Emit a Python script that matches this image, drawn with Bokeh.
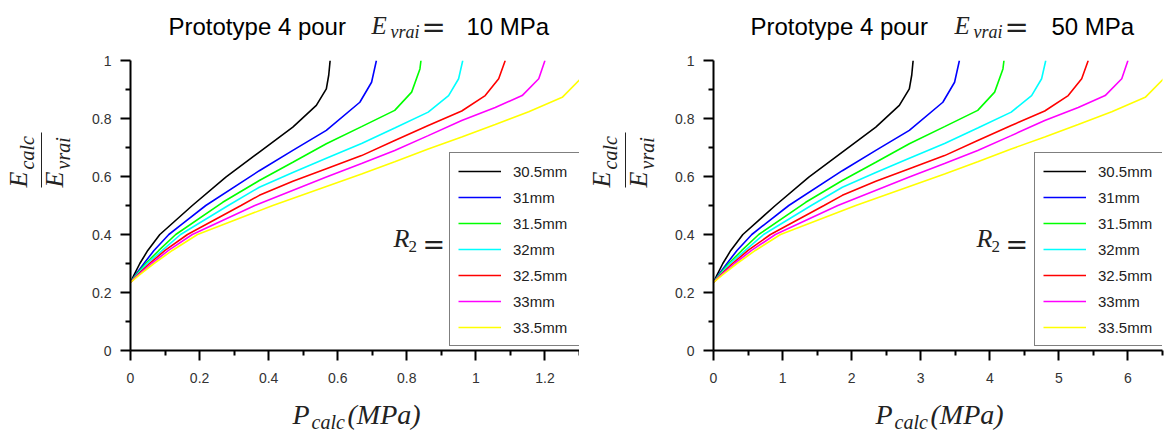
import math
from bokeh.plotting import figure
from bokeh.models import Label, BoxAnnotation, FixedTicker, CustomJSTickFormatter, Range1d
from bokeh.layouts import row, column
from bokeh.embed import file_html
from bokeh.resources import INLINE

# ---------------- data ----------------
series_labels = ["30.5mm", "31mm", "31.5mm", "32mm", "32.5mm", "33mm", "33.5mm"]
series_colors = ["#000000", "#0000ff", "#00ff00", "#00ffff", "#ff0000", "#ff00ff", "#ffff00"]

# E_calc / E_vrai (y) of the points read on each curve (same for both panels)
y_30_5 = [0.235, 0.26, 0.3, 0.345, 0.4, 0.5, 0.598, 0.684, 0.77, 0.845, 0.902, 0.95, 1.0]
y_31 = [0.235, 0.26, 0.3, 0.345, 0.4, 0.437, 0.5, 0.62, 0.69, 0.759, 0.856, 0.925, 1.0]
y_31_5 = [0.235, 0.26, 0.3, 0.345, 0.4, 0.511, 0.586, 0.649, 0.713, 0.772, 0.828, 0.891, 0.971, 1.0]
y_32 = [0.235, 0.26, 0.3, 0.345, 0.4, 0.5, 0.563, 0.614, 0.663, 0.714, 0.767, 0.822, 0.879, 0.937, 1.0]
y_32_5 = [0.235, 0.26, 0.3, 0.345, 0.4, 0.5, 0.535, 0.584, 0.627, 0.672, 0.724, 0.776, 0.826, 0.879, 0.937, 1.0]
y_33 = [0.235, 0.26, 0.3, 0.345, 0.4, 0.5, 0.598, 0.645, 0.69, 0.741, 0.793, 0.838, 0.879, 0.937, 1.0]
y_33_5 = [0.235, 0.26, 0.3, 0.345, 0.4, 0.5, 0.609, 0.651, 0.695, 0.736, 0.779, 0.823, 0.873, 0.943]

# P_calc (MPa) for E_vrai = 10 MPa
p10_30_5 = [0, 0.01, 0.027, 0.05, 0.085, 0.179, 0.276, 0.373, 0.47, 0.538, 0.567, 0.574, 0.578]
p10_31 = [0, 0.014, 0.039, 0.068, 0.111, 0.15, 0.218, 0.373, 0.47, 0.567, 0.664, 0.698, 0.712]
p10_31_5 = [0, 0.016, 0.044, 0.082, 0.131, 0.267, 0.373, 0.47, 0.567, 0.669, 0.765, 0.814, 0.838, 0.841]
p10_32 = [0, 0.018, 0.048, 0.092, 0.145, 0.283, 0.373, 0.47, 0.567, 0.669, 0.765, 0.862, 0.921, 0.95, 0.962]
p10_32_5 = [0, 0.02, 0.055, 0.10, 0.165, 0.32, 0.373, 0.47, 0.567, 0.669, 0.765, 0.862, 0.959, 1.027, 1.066, 1.085]
p10_33 = [0, 0.022, 0.061, 0.11, 0.179, 0.36, 0.567, 0.669, 0.765, 0.862, 0.959, 1.056, 1.134, 1.182, 1.2]
p10_33_5 = [0, 0.025, 0.068, 0.121, 0.194, 0.412, 0.669, 0.765, 0.862, 0.959, 1.056, 1.153, 1.25, 1.308]

# P_calc (MPa) for E_vrai = 50 MPa
p50_30_5 = [0, 0.05, 0.135, 0.25, 0.425, 0.895, 1.38, 1.865, 2.35, 2.69, 2.835, 2.87, 2.89]
p50_31 = [0, 0.07, 0.195, 0.34, 0.555, 0.75, 1.09, 1.865, 2.35, 2.835, 3.32, 3.49, 3.56]
p50_31_5 = [0, 0.08, 0.22, 0.41, 0.655, 1.335, 1.865, 2.35, 2.835, 3.345, 3.825, 4.07, 4.19, 4.205]
p50_32 = [0, 0.09, 0.24, 0.46, 0.725, 1.415, 1.865, 2.35, 2.835, 3.345, 3.825, 4.31, 4.605, 4.75, 4.81]
p50_32_5 = [0, 0.1, 0.275, 0.5, 0.825, 1.6, 1.865, 2.35, 2.835, 3.345, 3.825, 4.31, 4.795, 5.135, 5.33, 5.425]
p50_33 = [0, 0.11, 0.305, 0.55, 0.895, 1.8, 2.835, 3.345, 3.825, 4.31, 4.795, 5.28, 5.67, 5.91, 6.0]
p50_33_5 = [0, 0.125, 0.34, 0.605, 0.97, 2.06, 3.345, 3.825, 4.31, 4.795, 5.28, 5.765, 6.25, 6.54]

# axes
x_end_10 = 1.3
x_ticks_10 = [0, 0.2, 0.4, 0.6, 0.8, 1.0, 1.2]
x_tick_labels_10 = ["0", "0.2", "0.4", "0.6", "0.8", "1", "1.2"]
x_minor_10 = [0.1, 0.3, 0.5, 0.7, 0.9, 1.1, 1.3]

x_end_50 = 6.5
x_ticks_50 = [0, 1, 2, 3, 4, 5, 6]
x_tick_labels_50 = ["0", "1", "2", "3", "4", "5", "6"]
x_minor_50 = [0.5, 1.5, 2.5, 3.5, 4.5, 5.5, 6.5]

y_ticks = [0, 0.2, 0.4, 0.6, 0.8, 1.0]
y_tick_labels = ["0", "0.2", "0.4", "0.6", "0.8", "1"]
y_minor = [0.1, 0.3, 0.5, 0.7, 0.9]

title_prefix = "Prototype 4 pour"
title_value_10 = "10 MPa"
title_value_50 = "50 MPa"

SANS = "Liberation Sans"
SERIF = "Liberation Serif"
EQ_FONT = "DejaVu Serif"
MATH_COLOR = "#222222"
ROT = math.pi / 2
BASE_FIX = 0.35   # em offset so that (x, y) is the alphabetic baseline


def label(p, x, y, s, font, size, style="normal", angle=0.0, color="#000000"):
    if angle == 0.0:
        y = y + BASE_FIX * size
    else:
        x = x - BASE_FIX * size
    p.add_layout(Label(x=x, y=y, x_units="screen", y_units="screen", text=s,
                       text_font=font, text_font_size=f"{size}px", text_font_style=style,
                       angle=angle, text_color=color, text_align="left",
                       text_baseline="alphabetic"))


def blank(width, height):
    f = figure(width=width, height=height, x_range=Range1d(0, 1), y_range=Range1d(0, 1),
               output_backend="svg", toolbar_location=None, title=None,
               x_axis_location=None, y_axis_location=None,
               min_border_left=0, min_border_right=0, min_border_top=0, min_border_bottom=0)
    f.outline_line_color = None
    f.grid.visible = False
    f.background_fill_color = "#ffffff"
    f.border_fill_color = "#ffffff"
    return f


def style_axis(ax, ticks, minor, labels, standoff):
    ax.ticker = FixedTicker(ticks=ticks, minor_ticks=minor)
    ax.formatter = CustomJSTickFormatter(
        args=dict(t=ticks, l=labels),
        code="const i = t.indexOf(tick); return i >= 0 ? l[i] : '';")
    ax.axis_line_color = "#000000"
    ax.axis_line_width = 2
    ax.major_tick_line_color = "#000000"
    ax.major_tick_line_width = 2
    ax.minor_tick_line_color = "#000000"
    ax.minor_tick_line_width = 2
    ax.major_tick_out = 10
    ax.major_tick_in = 0
    ax.minor_tick_out = 5
    ax.minor_tick_in = 0
    ax.major_label_text_font = SANS
    ax.major_label_text_font_size = "14px"
    ax.major_label_text_color = "#333333"
    ax.major_label_standoff = standoff


MAIN_H = 349  # 14 (top) + 290 (frame) + 45 (bottom)


def main_plot(width, border_left, border_right, x_end, curves, ycurves,
              x_ticks, x_labels, x_minor, legend_x):
    p = figure(width=width, height=MAIN_H, x_range=Range1d(0, x_end), y_range=Range1d(0, 1),
               output_backend="svg", toolbar_location=None, title=None,
               min_border_left=border_left, min_border_right=border_right,
               min_border_top=14, min_border_bottom=45)
    p.outline_line_color = None
    p.xgrid.visible = False
    p.ygrid.visible = False
    p.background_fill_color = "#ffffff"
    p.border_fill_color = "#ffffff"

    style_axis(p.xaxis[0], x_ticks, x_minor, x_labels, 12)
    style_axis(p.yaxis[0], y_ticks, y_minor, y_tick_labels, 9)

    for xs, ys, c, lab in zip(curves, ycurves, series_colors, series_labels):
        p.line(xs, ys, line_color=c, line_width=1.6, legend_label=lab)

    lg = p.legend[0]
    lg.location = (legend_x, 4)
    lg.margin = 0
    lg.padding = 8
    lg.spacing = 6
    lg.glyph_width = 43
    lg.glyph_height = 20
    lg.label_height = 20
    lg.label_width = 58
    lg.label_standoff = 12
    lg.label_text_font = SANS
    lg.label_text_font_size = "15px"
    lg.label_text_color = "#222222"
    lg.border_line_color = "#000000"
    lg.border_line_width = 1.5
    lg.background_fill_color = "#ffffff"
    lg.background_fill_alpha = 1.0

    # R_2 =
    label(p, 263, 103, "R", SERIF, 26, "italic", color=MATH_COLOR)
    label(p, 278, 98, "2", SERIF, 17, color=MATH_COLOR)
    label(p, 292, 97, "=", EQ_FONT, 27, color=MATH_COLOR)
    return p


def title_fig(width, value_text, xs):
    x_proto, x_e, x_sub, x_eq, x_val = xs
    f = blank(width, 46)
    label(f, x_proto, 12, title_prefix, SANS, 24)
    label(f, x_e, 12, "E", SERIF, 25, "italic", color=MATH_COLOR)
    label(f, x_sub, 8.5, "vrai", SERIF, 18, "italic", color=MATH_COLOR)
    label(f, x_eq, 9, "=", EQ_FONT, 29, color=MATH_COLOR)
    label(f, x_val, 12, value_text, SANS, 24)
    return f


def ylabel_fig(width, num_x, bar_x, den_x):
    f = blank(width, MAIN_H)
    label(f, num_x, 163, "E", SERIF, 26, "italic", ROT, MATH_COLOR)
    label(f, num_x + 6, 181, "calc", SERIF, 20, "italic", ROT, MATH_COLOR)
    label(f, den_x, 163, "E", SERIF, 26, "italic", ROT, MATH_COLOR)
    label(f, den_x + 6, 181, "vrai", SERIF, 20, "italic", ROT, MATH_COLOR)
    f.add_layout(BoxAnnotation(left=bar_x - 0.5, right=bar_x + 0.5, bottom=163, top=218,
                               left_units="screen", right_units="screen",
                               bottom_units="screen", top_units="screen",
                               fill_color=MATH_COLOR, fill_alpha=1.0, line_color=None))
    return f


def xlabel_fig(width, x_p):
    f = blank(width, 40)
    label(f, x_p, 11, "P", SERIF, 28, "italic", color=MATH_COLOR)
    label(f, x_p + 19, 6.5, "calc", SERIF, 20, "italic", color=MATH_COLOR)
    label(f, x_p + 55, 11, "(MPa)", SERIF, 28, "italic", color=MATH_COLOR)
    return f


curves_10 = [p10_30_5, p10_31, p10_31_5, p10_32, p10_32_5, p10_33, p10_33_5]
curves_50 = [p50_30_5, p50_31, p50_31_5, p50_32, p50_32_5, p50_33, p50_33_5]
ys_all = [y_30_5, y_31, y_31_5, y_32, y_32_5, y_33, y_33_5]

# left panel (page x 0..579), frame at x 130..579, y 60..350
main_10 = main_plot(503, 54, 0, x_end_10, curves_10, ys_all,
                    x_ticks_10, x_tick_labels_10, x_minor_10, 319)
panel_10 = column(
    title_fig(579, title_value_10, (168, 371, 390, 421, 466)),
    row(ylabel_fig(76, 27, 41, 63), main_10),
    xlabel_fig(579, 292),
)

# right panel (page x 579..1167), frame at x 713..1162
main_50 = main_plot(500, 46, 5, x_end_50, curves_50, ys_all,
                    x_ticks_50, x_tick_labels_50, x_minor_50, 321)
panel_50 = column(
    title_fig(588, title_value_50, (171, 375, 394, 425, 472)),
    row(ylabel_fig(88, 31, 46, 68), main_50),
    xlabel_fig(588, 296),
)

layout = row(panel_10, panel_50)
open("out.html", "w").write(file_html(layout, INLINE))
